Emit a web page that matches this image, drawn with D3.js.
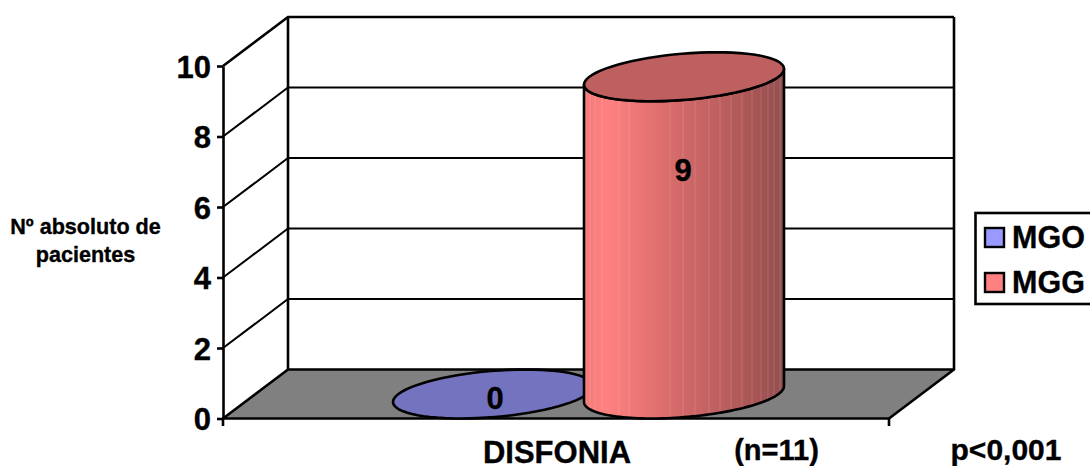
<!DOCTYPE html>
<html><head><meta charset="utf-8">
<script src="https://cdn.jsdelivr.net/npm/d3@7"></script>
<style>
html,body{margin:0;padding:0;background:#fff;overflow:hidden}
text{font-family:"Liberation Sans",Arial,sans-serif;font-weight:bold;fill:#000;stroke:#000;stroke-width:0.35px}
</style></head><body>
<svg id="c" width="1090" height="466" style="display:block"></svg>
<script>
const categories = ["DISFONIA"];
const seriesNames = ["MGO", "MGG"];
const seriesValues = [0, 9];
const seriesColors = ["#9999ff", "#ff8080"];
const topColors = ["#7373bf", "#bf6060"];
const yTicks = [0, 2, 4, 6, 8, 10];
const yTitle = ["Nº absoluto de", "pacientes"];
const nLabel = "(n=11)";
const pLabel = "p<0,001";
const shadeStops = [[0,"#f47a7a"],[0.12,"#ff8080"],[0.3,"#e87474"],[0.5,"#d06868"],[0.7,"#bc5e5e"],[0.85,"#a85454"],[1,"#925050"]];
const seamXs = [586,590,595,602,619,629,670,683,695,709,720,731,742,752,761,768,774,780];

const svg = d3.select("#c");
const y = d3.scaleLinear().domain([0,10]).range([418.5,66]);
const x = d3.scaleLinear().domain([0,1]).range([223,889]);
const depth = {dx:65, dy:-49};
const barX = d3.scaleBand().domain(seriesNames).range([393,775]).padding(0);
const rx = 100;

const defs = svg.append("defs");
const grad = defs.append("linearGradient").attr("id","cyl");
shadeStops.forEach(s=>grad.append("stop").attr("offset",s[0]).attr("stop-color",s[1]));

const line = d3.line();
const x0=x(0), x1=x(1), y0=y(0);
const lw = 2.6;

svg.append("path").attr("d",line([[x0,y0],[x1,y0],[x1+depth.dx,y0+depth.dy],[x0+depth.dx,y0+depth.dy]])+"Z")
  .attr("fill","#808080").attr("stroke","#000").attr("stroke-width",lw).attr("stroke-linejoin","round");

yTicks.filter(t=>t>0).forEach(t=>{
  const yy=y(t);
  svg.append("path").attr("fill","none").attr("stroke","#000").attr("stroke-width",t===10?2.6:2)
    .attr("d",line([[x0,yy],[x0+depth.dx,yy+depth.dy],[x1+depth.dx,yy+depth.dy]]));
});
[x0,x1].forEach(xx=>{
  svg.append("line").attr("x1",xx+depth.dx).attr("x2",xx+depth.dx)
    .attr("y1",y(10)+depth.dy).attr("y2",y0+depth.dy).attr("stroke","#000").attr("stroke-width",lw);
});

const axisG = svg.append("g").attr("transform",`translate(${x0},0)`)
  .call(d3.axisLeft(y).tickValues(yTicks).tickSize(6).tickPadding(6).tickSizeOuter(0));
axisG.selectAll("path,line").attr("stroke","#000").attr("stroke-width",lw);
axisG.selectAll("text").attr("font-size",31).attr("font-family",null).attr("dy","0.36em");
[0,1].forEach(v=>{
  svg.append("line").attr("x1",x(v)).attr("x2",x(v)).attr("y1",y0).attr("y2",y0+7.5).attr("stroke","#000").attr("stroke-width",lw);
});

const w = Math.sqrt(rx*rx-(depth.dx/2)*(depth.dx/2));
const tilt = Math.atan2(depth.dx/2,w);
const midY = y(0)+depth.dy/2;
const arc = (cx,cy,from,to)=>d3.range(0,73).map(i=>{
  const t=from+(to-from)*i/72;
  return [cx+w*Math.cos(t)+depth.dx/2*Math.sin(t), cy+depth.dy/2*Math.sin(t)];
});
const labelPos = [[495,398],[683,170]];
seriesNames.forEach((name,i)=>{
  const cx = barX(name)+rx, v = seriesValues[i];
  const cyT = midY-(y(0)-y(v));
  if(v>0){
    const front = arc(cx,midY,Math.PI+tilt,2*Math.PI+tilt);
    const back = arc(cx,cyT,2*Math.PI+tilt,Math.PI+tilt);
    const side = line(front.concat(back))+"Z";
    defs.append("clipPath").attr("id","clip"+i).append("path").attr("d",side);
    svg.append("path").attr("d",side).attr("fill","url(#cyl)");
    svg.append("g").attr("clip-path",`url(#clip${i})`).selectAll("line").data(seamXs).join("line")
      .attr("x1",d=>d).attr("x2",d=>d).attr("y1",0).attr("y2",466)
      .attr("stroke","#fff").attr("stroke-opacity",0.15).attr("stroke-width",1);
    svg.append("path").attr("d",side).attr("fill","none").attr("stroke","#000").attr("stroke-width",lw).attr("stroke-linejoin","round");
  }
  svg.append("path").attr("d",line(arc(cx,cyT,0,2*Math.PI))+"Z")
    .attr("fill",topColors[i]).attr("stroke","#000").attr("stroke-width",lw);
  if(i===0) svg.append("text").attr("x",labelPos[0][0]).attr("y",labelPos[0][1]).attr("dy","0.36em").attr("text-anchor","middle").attr("font-size",31).text(v);
});
svg.append("text").attr("x",labelPos[1][0]).attr("y",labelPos[1][1]).attr("dy","0.36em").attr("text-anchor","middle").attr("font-size",31).text(seriesValues[1]);

yTitle.forEach((s,i)=>{
  svg.append("text").attr("x",85.5).attr("y",[234,262][i]).attr("text-anchor","middle").attr("font-size",21.6).text(s);
});

svg.append("text").attr("x",557).attr("y",463).attr("text-anchor","middle").attr("font-size",31).text(categories[0]);
svg.append("text").attr("x",776.5).attr("y",460).attr("text-anchor","middle").attr("font-size",29).text(nLabel);
svg.append("text").attr("x",1006).attr("y",460).attr("text-anchor","middle").attr("font-size",30).text(pLabel);

svg.append("rect").attr("x",975.5).attr("y",213).attr("width",125).attr("height",91)
  .attr("fill","#fff").attr("stroke","#000").attr("stroke-width",lw);
seriesNames.forEach((name,i)=>{
  const yy=[228,273][i];
  svg.append("rect").attr("x",985).attr("y",yy).attr("width",19).attr("height",19)
    .attr("fill",seriesColors[i]).attr("stroke","#000").attr("stroke-width",2.4);
  svg.append("text").attr("x",1012).attr("y",yy+9.5).attr("dy","0.36em").attr("font-size",30.5).text(name);
});
</script></body></html>
